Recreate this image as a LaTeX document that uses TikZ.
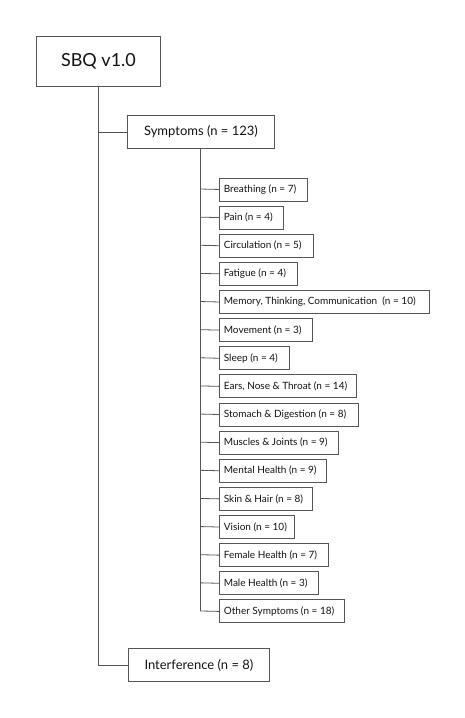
\documentclass[tikz,border=0pt]{standalone}
\usepackage{fontspec}
\setmainfont{Lato}
\definecolor{ln}{HTML}{555555}
\definecolor{tx}{HTML}{111111}
\begin{document}
\begin{tikzpicture}[x=1pt,y=-1pt,
  leafbox/.style={draw=ln, line width=0.9pt, anchor=north west, minimum height=23pt, inner xsep=4pt, inner ysep=0pt, text=tx, font=\fontsize{10}{12}\selectfont},
  bigbox/.style={draw=ln, line width=0.9pt, anchor=north west, inner sep=0pt, text=tx},
  conn/.style={draw=ln, line width=0.8pt}]
\useasboundingbox (0,0) rectangle (465,718);
\node[bigbox, minimum width=124pt, minimum height=50pt, font=\fontsize{18}{20}\selectfont] (root) at (36,36) {SBQ v1.0};
\node[bigbox, minimum width=147pt, minimum height=33pt, font=\fontsize{13}{15}\selectfont] (sym) at (127,115) {Symptoms (n = 123)};
\node[bigbox, minimum width=141pt, minimum height=33pt, font=\fontsize{13}{15}\selectfont] (intf) at (128,648) {Interference (n = 8)};
\newcommand{\leaf}[4]{%
  \node[leafbox, minimum width=#3pt] (#1) at (219,{177.5+28.13*#2}) {\makebox[\dimexpr#3pt-8.8pt\relax][l]{#4}};
  \draw[conn] (200,{189+28.13*#2}) -- (#1.west);}
\leaf{l0}{0}{88}{Breathing (n = 7)}
\leaf{l1}{1}{64}{Pain (n = 4)}
\leaf{l2}{2}{94}{Circulation (n = 5)}
\leaf{l3}{3}{78}{Fatigue (n = 4)}
\leaf{l4}{4}{210}{Memory, Thinking, Communication~~(n = 10)}
\leaf{l5}{5}{93}{Movement (n = 3)}
\leaf{l6}{6}{70}{Sleep (n = 4)}
\leaf{l7}{7}{137}{Ears, Nose \& Throat (n = 14)}
\leaf{l8}{8}{139}{Stomach \& Digestion (n = 8)}
\leaf{l9}{9}{119}{Muscles \& Joints (n = 9)}
\leaf{l10}{10}{107}{Mental Health (n = 9)}
\leaf{l11}{11}{93}{Skin \& Hair (n = 8)}
\leaf{l12}{12}{75}{Vision (n = 10)}
\leaf{l13}{13}{109}{Female Health (n = 7)}
\leaf{l14}{14}{99}{Male Health (n = 3)}
\leaf{l15}{15}{125}{Other Symptoms (n = 18)}
\coordinate (rj) at (98,86);
\draw[conn] (root.south -| rj) |- (sym.west);
\draw[conn] (root.south -| rj) |- (intf.west);
\coordinate (sj) at (200,148);
\draw[conn] (sj) -- (sj |- l15.west);
\end{tikzpicture}
\end{document}
